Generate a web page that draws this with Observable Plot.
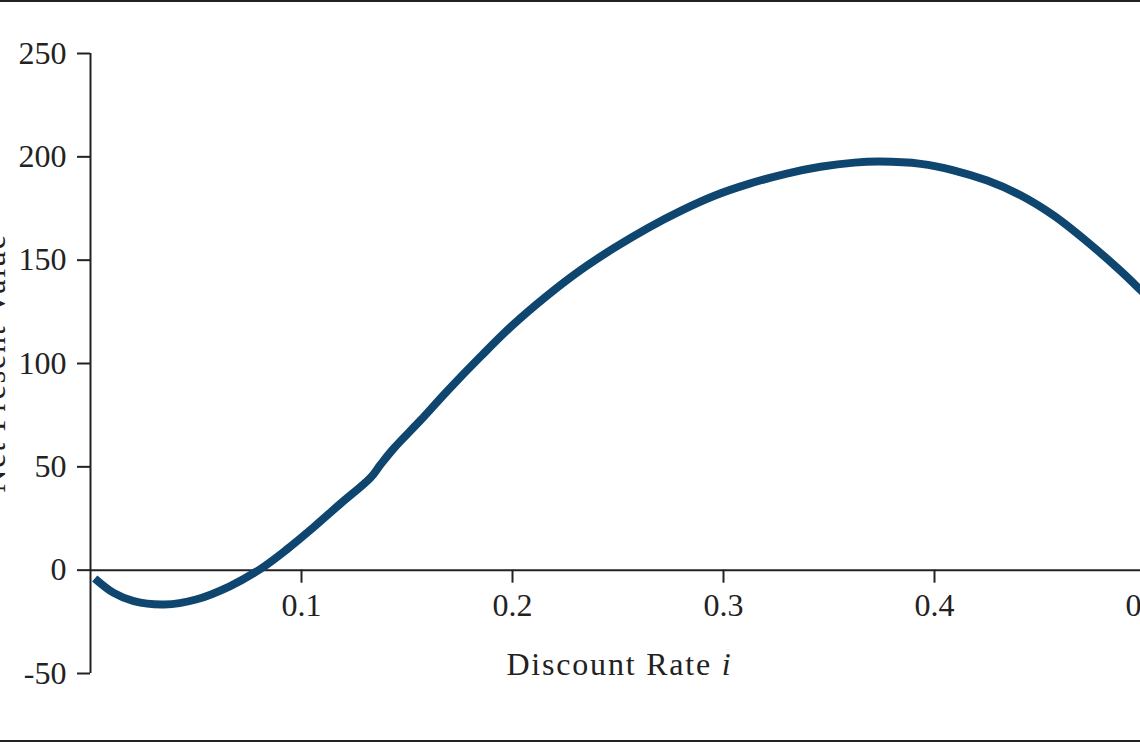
<!DOCTYPE html>
<html>
<head>
<meta charset="utf-8">
<script src="https://cdn.jsdelivr.net/npm/d3@7"></script>
<script src="https://cdn.jsdelivr.net/npm/@observablehq/plot@0.6"></script>
<style>
  html, body { margin: 0; padding: 0; background: #fff; }
  #frame {
    width: 1140px; height: 742px; overflow: hidden; box-sizing: border-box;
    border-top: 2px solid #222; border-bottom: 2px solid #222; position: relative;
  }
  #frame svg { display: block; max-width: none !important; }
</style>
</head>
<body>
<div id="frame"></div>
<script>
// Discount rate i and net present value
const rates = [0.002, 0.011, 0.0205, 0.035, 0.05, 0.066, 0.08, 0.093, 0.106, 0.1185, 0.1327,
  0.1374, 0.1438, 0.1564, 0.169, 0.185, 0.2, 0.216, 0.232, 0.248, 0.264, 0.28, 0.296, 0.312,
  0.33, 0.346, 0.362, 0.374, 0.3935, 0.409, 0.425, 0.441, 0.4565, 0.4725, 0.488, 0.498, 0.5];
const npv = [-4, -11, -15, -16.6, -14.2, -7.8, 0.2, 10.0, 21.0, 32.2, 44.7,
  51.0, 59.0, 72.5, 86.6, 103.5, 118.5, 132.5, 145.0, 155.8, 165.5, 174.0, 181.3, 186.9,
  191.9, 195.2, 197.2, 197.7, 196.6, 193.5, 188.5, 181.3, 171.6, 158.8, 145.0, 135.2, 133.2];

const xTicks = [0.1, 0.2, 0.3, 0.4, 0.5];
const yTicks = [-50, 0, 50, 100, 150, 200, 250];
const xDomain = [0, 0.5];
const yDomain = [-50, 250];
const xLabel = "Discount Rate ";
const xLabelItalic = "i";
const yLabel = "Net Present Value";

const data = rates.map((r, k) => ({rate: r, npv: npv[k]}));

const W = 1200, H = 738, mT = 51, mB = 67, mL = 90, mR = 55;
const innerH = H - mT - mB;
const zeroOffset = -((0 - yDomain[0]) / (yDomain[1] - yDomain[0])) * innerH;

const ink = "#222";
const fontFamily = "'Liberation Serif', 'DejaVu Serif', serif";

const plot = Plot.plot({
  width: W, height: H,
  marginTop: mT, marginBottom: mB, marginLeft: mL, marginRight: mR,
  style: {fontFamily, fontSize: "32px", color: ink, background: "#fff", overflow: "visible", maxWidth: "none"},
  x: {domain: xDomain},
  y: {domain: yDomain},
  marks: [
    Plot.ruleX([0], {stroke: ink, strokeWidth: 2}),
    Plot.ruleY([0], {stroke: ink, strokeWidth: 2}),
    Plot.axisY({ticks: yTicks, tickSize: 13, tickPadding: 11, strokeWidth: 2,
      tickFormat: d => `${d}`, label: null, fill: ink}),
    Plot.axisX({ticks: xTicks, tickSize: 13, tickPadding: 10, strokeWidth: 2, dy: zeroOffset,
      tickFormat: d => d.toFixed(1), label: null, fill: ink}),
    Plot.line(data, {x: "rate", y: "npv", stroke: "#0e4670", strokeWidth: 8,
      curve: "catmull-rom", strokeLinecap: "butt"})
  ]
});
plot.setAttribute("width", W);
plot.style.width = W + "px";

document.getElementById("frame").appendChild(plot);

const xs = plot.scale("x"), ys = plot.scale("y");
const svg = d3.select(plot);
const t = svg.append("text")
  .attr("x", xs.apply((xDomain[0] + xDomain[1]) / 2) + 2)
  .attr("y", 673)
  .attr("text-anchor", "middle")
  .attr("fill", ink)
  .style("font-size", "32px")
  .style("letter-spacing", "1.8px");
t.append("tspan").text(xLabel);
t.append("tspan").style("font-style", "italic").text(xLabelItalic);

svg.append("text")
  .attr("transform", `translate(5, ${ys.apply((yDomain[0] + yDomain[1]) / 2)}) rotate(-90)`)
  .attr("text-anchor", "middle")
  .attr("fill", ink)
  .style("font-size", "32px")
  .style("letter-spacing", "1.8px")
  .text(yLabel);
</script>
</body>
</html>
